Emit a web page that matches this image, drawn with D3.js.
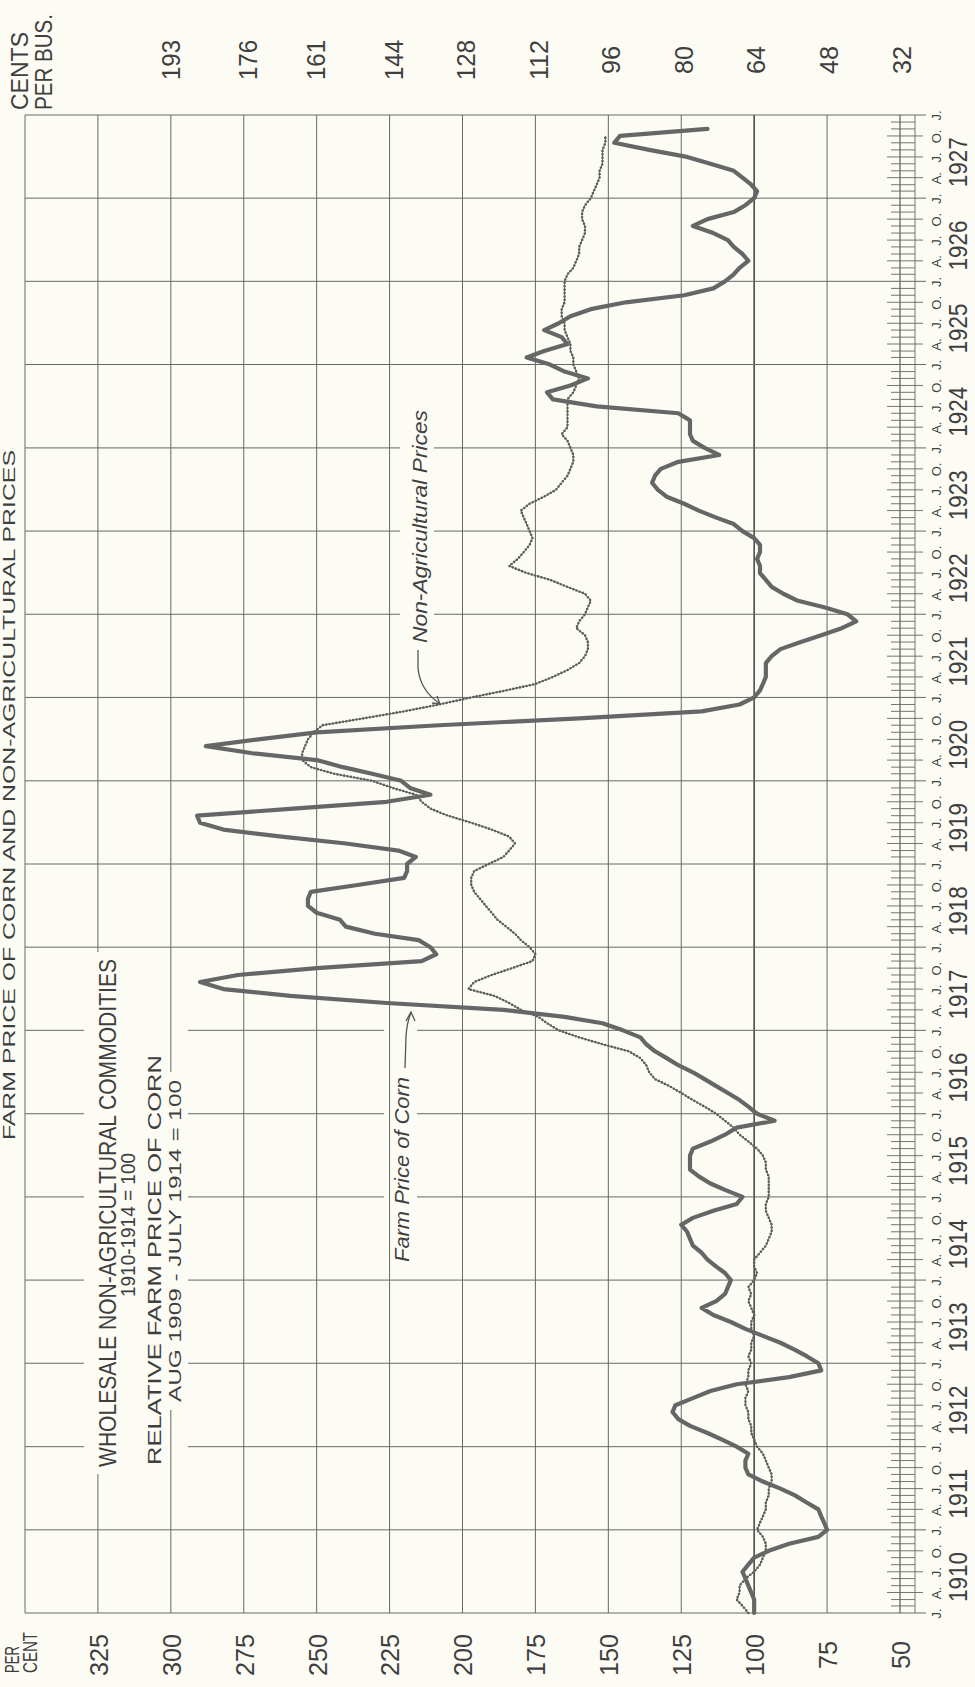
<!DOCTYPE html>
<html>
<head>
<meta charset="utf-8">
<script src="https://cdn.jsdelivr.net/npm/d3@7"></script>
<style>
  body { margin: 0; background: #fcfcf5; }
  svg { display: block; }
  text { font-family: "Liberation Sans", Arial, sans-serif; fill: #3f3f3f; }
</style>
</head>
<body>
<svg id="chart"></svg>
<script>
// relative farm price of corn, monthly from Jan 1910 (Aug 1909 - Jul 1914 = 100)
const corn = [
  100, 100, 100, 101, 102, 103, 104, 102, 100, 95, 88, 78,
  75, 76, 77, 78, 82, 86, 91, 97, 102, 103, 103, 102,
  106, 111, 116, 122, 126, 128, 127, 121, 115, 106, 88, 77,
  78, 82, 86, 91, 97, 103, 108, 114, 118, 113, 110, 109,
  108, 110, 113, 116, 118, 121, 122, 123, 125, 121, 114, 106,
  104, 110, 115, 119, 122, 122, 122, 121, 115, 110, 106, 93,
  99, 102, 105, 109, 113, 117, 121, 126, 130, 134, 137, 139,
  145, 152, 165, 186, 226, 259, 282, 290, 277, 250, 214, 209,
  211, 215, 230, 240, 242, 250, 253, 253, 252, 236, 220, 219,
  219, 216, 222, 240, 262, 282, 290, 291, 258, 226, 211, 218,
  221, 231, 241, 250, 272, 288, 270, 250, 208, 160, 118, 105,
  100, 98, 97, 96, 96, 96, 94, 91, 84, 77, 70, 65,
  68, 76, 85, 90, 94, 96, 98, 98, 99, 98, 98, 100,
  104, 107, 113, 119, 124, 130, 133, 135, 134, 132, 126, 112,
  117, 121, 122, 122, 122, 126, 154, 169, 171, 163, 157, 165,
  170, 178, 172, 164, 166, 172, 167, 163, 156, 144, 124, 114,
  110, 107, 105, 102, 104, 107, 109, 114, 121, 116, 107, 103,
  100, 99, 101, 104, 107, 115, 123, 136, 148, 146, 116
]

// wholesale non-agricultural commodities, monthly from Jan 1910 (1910-1914 = 100)
const nonAg = [
  102, 104, 106, 105, 105, 103, 100, 98, 97, 96, 96, 97,
  99, 98, 97, 96, 96, 95, 95, 94, 94, 95, 96, 97,
  99, 100, 101, 101, 102, 102, 103, 103, 102, 103, 102, 102,
  101, 102, 101, 101, 100, 101, 101, 100, 101, 102, 101, 102,
  100, 99, 100, 100, 98, 96, 95, 94, 94, 95, 96, 96,
  95, 95, 95, 95, 96, 96, 97, 99, 102, 105, 107, 110,
  113, 117, 121, 125, 129, 134, 136, 137, 139, 143, 152, 160,
  167, 171, 174, 180, 184, 189, 198, 196, 190, 183, 176, 175,
  177, 180, 182, 185, 188, 190, 192, 194, 196, 197, 197, 196,
  191, 186, 184, 182, 184, 190, 197, 205, 211, 214, 216, 224,
  231, 244, 252, 255, 255, 254, 253, 251, 248, 234, 220, 208,
  197, 185, 175, 169, 164, 160, 158, 157, 157, 158, 161, 160,
  158, 157, 156, 158, 164, 170, 178, 184, 181, 179, 177, 176,
  177, 178, 179, 180, 177, 172, 168, 166, 164, 163, 162, 162,
  163, 164, 166, 164, 164, 164, 164, 164, 162, 161, 160, 161,
  162, 162, 163, 163, 164, 165, 165, 166, 166, 165, 165, 165,
  165, 164, 162, 161, 160, 160, 159, 158, 158, 159, 159, 158,
  156, 155, 154, 153, 153, 152, 152, 152, 151, 151
]

const pctGrid = [350, 325, 300, 275, 250, 225, 200, 175, 150, 125, 100, 75, 50]
const pctTicks = [325, 300, 275, 250, 225, 200, 175, 150, 125, 100, 75, 50]
const centsTicks = [193, 176, 161, 144, 128, 112, 96, 80, 64, 48, 32]
const years = [1910, 1911, 1912, 1913, 1914, 1915, 1916, 1917, 1918,
  1919, 1920, 1921, 1922, 1923, 1924, 1925, 1926, 1927]
const quarterLetters = ["J.", "A.", "J.", "O."]

const W = 975, H = 1687
const paper = "#fcfcf5"

const svg = d3.select("#chart").attr("width", W).attr("height", H)
svg.append("rect").attr("width", W).attr("height", H).attr("fill", paper)

const start = new Date(1910, 0, 1)
const end = new Date(1928, 0, 1)
const y = d3.scaleTime().domain([start, end]).range([1613, 115])
const x = d3.scaleLinear().domain([350, 50]).range([25, 900])
const xc = d3.scaleLinear().domain([350 * 0.643, 50 * 0.643]).range([25, 900])

const monthDate = i => d3.timeMonth.offset(start, i)

// places where the grid is broken for lettering
const hGaps = [
  { x0: 84, x1: 188, y0: 950, y1: 1476 },
  { x0: 384, x1: 417, y0: 1005, y1: 1268 },
  { x0: 400, x1: 434, y0: 404, y1: 674 }
]
const vGaps = { 325: [[952, 1474]], 300: [[1072, 1410]] }

function cut(a, b, gaps) {
  let segs = [[a, b]]
  gaps.forEach(([g0, g1]) => {
    segs = segs.flatMap(([s0, s1]) => {
      if (g1 <= s0 || g0 >= s1) return [[s0, s1]]
      const out = []
      if (g0 > s0) out.push([s0, g0])
      if (g1 < s1) out.push([g1, s1])
      return out
    })
  })
  return segs
}

const grid = svg.append("g").attr("stroke", "#686868").attr("stroke-width", 1).attr("fill", "none")

// value lines (vertical on the page)
pctGrid.forEach(v => {
  cut(y(end), y(start), vGaps[v] || []).forEach(([s0, s1]) => {
    grid.append("line")
      .attr("x1", x(v)).attr("x2", x(v)).attr("y1", s0).attr("y2", s1)
      .attr("stroke-width", v === 100 ? 1.7 : v === 50 ? 1.3 : 1)
      .attr("stroke", v === 100 ? "#555" : null)
  })
})

// year lines (horizontal on the page)
y.ticks(d3.timeYear.every(1)).forEach(d => {
  const py = y(d)
  const gaps = hGaps.filter(g => py > g.y0 && py < g.y1).map(g => [g.x0, g.x1])
  cut(x(350), 926, gaps).forEach(([s0, s1]) => {
    grid.append("line").attr("x1", s0).attr("x2", s1).attr("y1", py).attr("y2", py)
  })
})

// month comb along the 50 line
const comb = svg.append("g").attr("stroke", "#666").attr("stroke-width", 0.9)
d3.timeMonth.range(start, end).forEach((d, i) => {
  if (i % 12 === 0) return
  const q = i % 3 === 0
  comb.append("line")
    .attr("x1", q ? 887 : 891).attr("x2", q ? 923 : 915)
    .attr("y1", y(d)).attr("y2", y(d))
})
comb.append("line").attr("x1", 915).attr("x2", 915).attr("y1", y(end)).attr("y2", y(start))

// series
const line = d3.line().x(d => x(d.v)).y(d => y(d.date)).curve(d3.curveLinear)
const cornPts = corn.map((v, i) => ({ date: monthDate(i), v }))
const nonAgPts = nonAg.map((v, i) => ({ date: monthDate(i), v }))

svg.append("path").datum(nonAgPts).attr("d", line)
  .attr("fill", "none").attr("stroke", "#707070").attr("stroke-width", 1)
svg.append("path").datum(nonAgPts).attr("d", line)
  .attr("fill", "none").attr("stroke", "#5e5e5e").attr("stroke-width", 2.6)
  .attr("stroke-linecap", "round").attr("stroke-dasharray", "0 3.4")

svg.append("path").datum(cornPts).attr("d", line)
  .attr("fill", "none").attr("stroke", "#666").attr("stroke-width", 4.2)
  .attr("stroke-linejoin", "round").attr("stroke-linecap", "round")

// rotated lettering helper: baseline at px, text runs upward from py
function vtext(px, py, str, size, opts = {}) {
  const t = svg.append("text")
    .attr("transform", `translate(${px},${py}) rotate(-90)`)
    .attr("font-size", size)
    .attr("text-anchor", opts.anchor || "middle")
    .text(str)
  if (opts.len) t.attr("textLength", opts.len).attr("lengthAdjust", "spacingAndGlyphs")
  if (opts.italic) t.attr("font-style", "italic")
  if (opts.fill) t.attr("fill", opts.fill)
  return t
}

// per cent axis (bottom of page)
const pctAxis = svg.append("g").attr("transform", "translate(0,1655)")
  .call(d3.axisBottom(x).tickValues(pctTicks).tickSize(0).tickPadding(0))
pctAxis.select(".domain").remove()
pctAxis.selectAll("text")
  .attr("y", 0).attr("dy", "0.36em").attr("x", 0)
  .attr("transform", "rotate(-90)")
  .attr("text-anchor", "middle")
  .attr("font-size", 26)
  .attr("font-family", "Liberation Sans, Arial, sans-serif")
  .attr("fill", "#3f3f3f")
  .attr("textLength", d => d < 100 ? 28 : 42).attr("lengthAdjust", "spacingAndGlyphs")

// cents per bushel axis (top of page)
const centsAxis = svg.append("g").attr("transform", "translate(0,60)")
  .call(d3.axisTop(xc).tickValues(centsTicks).tickFormat(d3.format("d")).tickSize(0).tickPadding(0))
centsAxis.select(".domain").remove()
centsAxis.selectAll("text")
  .attr("y", 0).attr("dy", "0.36em").attr("x", 0)
  .attr("transform", "rotate(-90)")
  .attr("text-anchor", "middle")
  .attr("font-size", 26)
  .attr("font-family", "Liberation Sans, Arial, sans-serif")
  .attr("fill", "#3f3f3f")
  .attr("textLength", d => d < 100 ? 28 : 40).attr("lengthAdjust", "spacingAndGlyphs")

// year axis (right of page)
const yearAxis = svg.append("g").attr("transform", "translate(958,0)")
  .call(d3.axisRight(y).tickValues(years.map(yr => new Date(yr, 5, 10)))
    .tickFormat(d3.timeFormat("%Y")).tickSize(0).tickPadding(0))
yearAxis.select(".domain").remove()
yearAxis.selectAll("text")
  .attr("x", 0).attr("y", 0).attr("dy", "0.36em")
  .attr("transform", "rotate(-90)")
  .attr("text-anchor", "middle")
  .attr("font-size", 25)
  .attr("font-family", "Liberation Sans, Arial, sans-serif")
  .attr("fill", "#3f3f3f")
  .attr("textLength", 50).attr("lengthAdjust", "spacingAndGlyphs")

// quarter letters
const qAxis = svg.append("g").attr("transform", "translate(936,0)")
  .call(d3.axisRight(y).tickValues(d3.timeMonth.every(3).range(start, d3.timeDay.offset(end, 1)))
    .tickFormat((d, i) => quarterLetters[i % 4]).tickSize(0).tickPadding(0))
qAxis.select(".domain").remove()
qAxis.selectAll("text")
  .attr("x", 0).attr("y", 0).attr("dy", "0.36em")
  .attr("transform", "rotate(-90)")
  .attr("text-anchor", "middle")
  .attr("font-size", 13)
  .attr("font-family", "Liberation Sans, Arial, sans-serif")
  .attr("fill", "#444")

// corner captions
vtext(19, 1673, "PER", 21, { anchor: "start", len: 27 })
vtext(37, 1673, "CENT", 21, { anchor: "start", len: 41 })
vtext(28, 110, "CENTS", 23, { anchor: "start", len: 78 })
vtext(52, 110, "PER BUS.", 23, { anchor: "start", len: 96 })

// title along the page edge
vtext(15, 1140, "FARM PRICE OF CORN AND NON-AGRICULTURAL PRICES", 17, { anchor: "start", len: 690, fill: "#555" })

// key lettering
vtext(116, 1213, "WHOLESALE NON-AGRICULTURAL COMMODITIES", 23, { len: 508 })
vtext(135, 1225, "1910-1914 = 100", 20, { len: 144 })
vtext(161, 1260, "RELATIVE FARM PRICE OF CORN", 18, { len: 410 })
vtext(181, 1241, "AUG 1909 - JULY 1914 = 100", 16, { len: 322 })

// curve labels and pointers
vtext(427, 643, "Non-Agricultural Prices", 21, { anchor: "start", italic: true, len: 233 })
vtext(409, 1262, "Farm Price of Corn", 21, { anchor: "start", italic: true, len: 185 })

const ptr = svg.append("g").attr("fill", "none").attr("stroke", "#555").attr("stroke-width", 1.3)
ptr.append("path").attr("d", "M418,650 L418,668 Q420,690 439,703")
ptr.append("path").attr("d", "M432,703 L440,704 L437,696")
ptr.append("path").attr("d", "M405,1068 L406,1036 Q407,1022 411,1013")
ptr.append("path").attr("d", "M406,1021 L411,1012 L415,1021")
</script>
</body>
</html>
